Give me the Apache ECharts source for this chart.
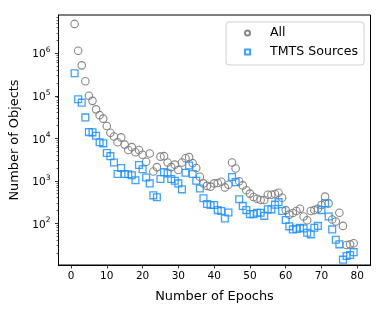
<!DOCTYPE html>
<html>
<head>
<meta charset="utf-8">
<script src="https://cdn.jsdelivr.net/npm/echarts@6/dist/echarts.min.js"></script>
<style>
html,body{margin:0;padding:0;background:#fff;}
#chart{width:390px;height:312px;}
</style>
</head>
<body>
<div id="chart"></div>
<script>
// Number of epochs (x)
var epochs = [];
for (var e = 1; e <= 79; e++) epochs.push(e);

// "All" objects per epoch count
var allValues = [
  4.9e6, 1.15e6, 5.2e5, 2.2e5, 1.0e5, 7.6e4, 4.8e4, 3.5e4, 2.9e4, 1.95e4,
  1.35e4, 1.1e4, 8.1e3, 1.05e4, 7.1e3, 5.3e3, 6.2e3, 4.7e3, 5.3e3, 4.1e3,
  2.8e3, 4.4e3, 1.65e3, 2.1e3, 3.7e3, 3.8e3, 2.7e3, 2.1e3, 2.4e3, 1.8e3,
  2.7e3, 3.4e3, 3.6e3, 2.6e3, 2.0e3, 1.25e3, 870, 760, 730, 870,
  890, 950, 700, 810, 2.7e3, 1.95e3, 980, 780, 600, 500,
  415, 380, 355, 355, 470, 470, 490, 525, 400, 205,
  160, 175, 195, 220, 145, 118, 195, 205, 220, 270,
  425, 295, 123, 110, 178, 87, 31, 32, 34
];

// "TMTS Sources" per epoch count
var tmtsValues = [
  3.4e5, 8.3e4, 6.9e4, 3.1e4, 1.4e4, 1.38e4, 1.15e4, 8.1e3, 7.6e3, 4.5e3,
  3.8e3, 2.7e3, 1.45e3, 2.0e3, 1.45e3, 1.43e3, 1.35e3, 1.03e3, 2.35e3, 1.87e3,
  1.2e3, 870, 455, 410, 1.1e3, 1.6e3, 1.5e3, 1.1e3, 1.0e3, 870,
  630, 1.55e3, 2.3e3, 1.45e3, 1.0e3, 660, 390, 285, 270, 270,
  205, 195, 130, 180, 1.23e3, 930, 370, 257, 205, 165,
  165, 178, 178, 150, 213, 213, 275, 315, 195, 120,
  85, 72, 74, 79, 76, 60, 55, 79, 87, 205,
  295, 145, 72, 41, 32, 14, 17, 18, 21
];

var xTicks = [0, 10, 20, 30, 40, 50, 60, 70, 80];
var yMajorTicks = [1e2, 1e3, 1e4, 1e5, 1e6];
var yMinorTicks = [];
[10, 100, 1000, 10000, 100000, 1000000].forEach(function (d) {
  for (var m = 2; m <= 9; m++) {
    var v = m * d;
    if (v > 10.5 && v < 7.9e6) yMinorTicks.push(v);
  }
});

var FONT = 'DejaVu Sans';
var chart = echarts.init(document.getElementById('chart'), null, {renderer: 'canvas'});

function pairs(xs, ys) {
  return xs.map(function (x, i) { return [x, ys[i]]; });
}

var yMin = Math.pow(10, 1.02), yMax = Math.pow(10, 6.9);

chart.setOption({
  animation: false,
  backgroundColor: '#fff',
  grid: {left: 58.5, right: 19.5, top: 15, bottom: 47, show: true, borderColor: '#000', borderWidth: 1, backgroundColor: 'transparent'},
  legend: {
    orient: 'vertical',
    left: 226, top: 22,
    padding: [4, 6, 6, 18],
    itemGap: 5,
    itemWidth: 5, itemHeight: 5,
    symbolKeepAspect: true,
    backgroundColor: 'rgba(255,255,255,0.8)',
    borderColor: '#d0d0d0', borderWidth: 1, borderRadius: 3,
    textStyle: {fontFamily: FONT, fontSize: 12.6, color: '#000', lineHeight: 14, padding: [0, 0, 0, 15]},
    data: [
      {name: 'All', icon: 'circle'},
      {name: 'TMTS Sources', icon: 'path://M0 0H10V10H0Z'}
    ]
  },
  xAxis: {
    type: 'value', min: -3.5, max: 83.7,
    name: 'Number of Epochs', nameLocation: 'middle', nameGap: 25,
    nameTextStyle: {fontFamily: FONT, fontSize: 12.9, color: '#000'},
    axisLine: {show: true, onZero: false, lineStyle: {color: '#000', width: 1}},
    axisTick: {show: true, length: 3.5, lineStyle: {color: '#000', width: 0.8}, customValues: xTicks},
    axisLabel: {fontFamily: FONT, fontSize: 10.5, color: '#000', margin: 6, customValues: xTicks},
    splitLine: {show: false}
  },
  yAxis: [{
    type: 'log', min: yMin, max: yMax, logBase: 10,
    name: 'Number of Objects', nameLocation: 'middle', nameGap: 24, nameRotate: 90,
    nameTextStyle: {fontFamily: FONT, fontSize: 12.9, color: '#000'},
    axisLine: {show: true, onZero: false, lineStyle: {color: '#000', width: 1}},
    axisTick: {show: true, length: 3.5, lineStyle: {color: '#000', width: 0.8}, customValues: yMajorTicks},
    axisLabel: {
      margin: 8, customValues: yMajorTicks,
      formatter: function (v) {
        var p = Math.round(Math.log10(v));
        return '{b|10}{s|' + p + '}';
      },
      rich: {
        b: {fontFamily: FONT, fontSize: 10.5, color: '#000', lineHeight: 14, verticalAlign: 'bottom'},
        s: {fontFamily: FONT, fontSize: 7.5, color: '#000', lineHeight: 14, verticalAlign: 'top', padding: [0, 0, 4, 0]}
      }
    },
    splitLine: {show: false}
  }, {
    type: 'log', min: yMin, max: yMax, logBase: 10, position: 'left',
    axisLine: {show: false, onZero: false},
    axisTick: {show: true, length: 2, lineStyle: {color: '#000', width: 0.6}, customValues: yMinorTicks},
    axisLabel: {show: false},
    splitLine: {show: false}
  }],
  series: [{
    name: 'All', type: 'scatter', symbol: 'circle', symbolSize: 7.5,
    data: pairs(epochs, allValues),
    itemStyle: {color: 'rgba(255,255,255,0)', borderColor: '#7f7f7f', borderWidth: 1.1, opacity: 0.95},
    z: 2
  }, {
    name: 'TMTS Sources', type: 'scatter', symbol: 'rect', symbolSize: 6.8,
    data: pairs(epochs, tmtsValues),
    itemStyle: {color: 'rgba(255,255,255,0)', borderColor: '#1E90FF', borderWidth: 1.3, opacity: 0.85},
    z: 3
  }]
});
</script>
</body>
</html>
